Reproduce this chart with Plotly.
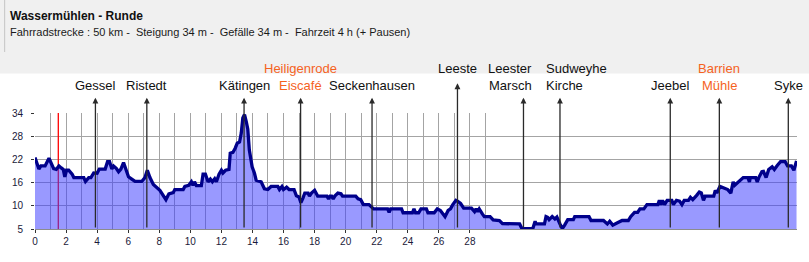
import plotly.graph_objects as go

# ---------------- data ----------------
km = [0.0, 0.15, 0.25, 0.38, 0.65, 0.9, 1.0, 1.2, 1.37, 1.54, 1.69, 1.82, 1.92, 2.03, 2.17, 2.39, 2.5,
      3.14, 3.25, 3.46, 3.6, 3.78, 4.0, 4.14, 4.52, 4.67, 4.8, 4.95, 5.06, 5.23, 5.38, 5.53, 5.7, 5.85,
      6.02, 6.23, 6.44, 6.87, 7.08, 7.23, 7.4, 7.62, 8.04, 8.43, 8.62, 8.9, 9.0, 9.54, 9.65, 9.9, 10.07,
      10.17, 10.27, 10.39, 10.71, 10.82, 10.97, 11.14, 11.29, 11.42, 11.57, 11.68, 11.85, 12.0, 12.1,
      12.27, 12.49, 12.57, 12.74, 12.89, 13.02, 13.17, 13.28, 13.38, 13.49, 13.6, 13.7, 13.8, 13.98,
      14.13, 14.24, 14.56, 14.77, 14.99, 15.2, 15.63, 15.74, 15.9, 16.0, 16.2, 16.36, 16.68, 16.83,
      17.0, 17.12, 17.25, 17.37, 17.58, 17.67, 17.8, 18.0, 18.2, 18.8, 18.9, 19.0, 19.1, 19.2, 19.3,
      19.5, 19.7, 19.8, 20.65, 20.8, 20.97, 21.14, 21.5, 21.8, 22.7, 22.8, 22.9, 23.6, 23.7, 24.3,
      24.4, 24.5, 24.7, 24.85, 25.2, 25.3, 25.7, 25.9, 26.1, 26.4, 26.6, 26.75, 26.9, 27.1, 27.2,
      27.4, 27.6, 28.1, 28.3, 28.4, 28.5, 28.6, 28.8, 28.93, 29.3, 29.5, 29.9, 30.1, 31.2, 31.35,
      32.05, 32.2, 32.25, 32.8, 32.9, 33.0, 33.1, 33.3, 33.47, 33.6, 33.8, 33.95, 34.1, 34.3, 34.66,
      34.75, 35.67, 35.8, 36.6, 36.85, 37.0, 37.2, 37.5, 37.8, 38.2, 38.35, 38.6, 38.8, 38.95, 39.2,
      39.4, 40.1, 40.2, 40.3, 40.4, 40.53, 40.7, 41.0, 41.1, 41.3, 41.5, 41.65, 41.8, 42.07, 42.2,
      42.35, 42.6, 42.77, 42.9, 43.04, 43.15, 43.7, 43.8, 43.9, 44.1, 44.3, 44.6, 44.8, 44.95, 45.05,
      45.38, 45.6, 45.9, 46.0, 46.05, 46.4, 46.5, 46.6, 46.8, 46.9, 47.07, 47.24, 47.46, 47.6, 47.8,
      48.0, 48.3, 48.45, 48.7, 48.86, 49.03]
elev = [22.5, 20.5, 19.5, 20.3, 20.3, 22.3, 21.4, 19.6, 19.4, 20.3, 19.8, 19.4, 17.5, 19.2, 19.2, 18.2, 17.3,
        17.3, 16.3, 17.3, 17.3, 18.5, 18.4, 19.5, 19.5, 21.4, 21.4, 19.5, 20.3, 19.7, 18.8, 19.5, 21.2, 19.5,
        17.5, 16.9, 16.3, 16.3, 17.3, 19.2, 17.3, 15.5, 14.0, 11.6, 13.1, 13.4, 14.2, 14.2, 15.0, 15.3, 16.2,
        15.3, 16.2, 15.2, 15.2, 18.2, 18.2, 16.2, 16.9, 16.2, 17.0, 16.2, 18.2, 19.2, 18.5,
        19.2, 19.4, 23.6, 23.8, 24.9, 26.2, 26.5, 28.8, 32.7, 33.6, 31.8, 29.8, 24.4, 20.1,
        18.4, 16.6, 16.2, 14.4, 14.2, 15.0, 15.0, 14.2, 15.0, 14.2, 14.8, 14.2, 14.2, 12.6,
        12.3, 10.8, 12.0, 13.3, 13.3, 12.5, 13.3, 14.0, 12.5, 12.5, 11.8, 12.5, 12.5, 11.8, 12.5,
        13.3, 13.1, 12.5, 12.5, 11.8, 11.6, 10.3, 10.3, 9.2, 9.2, 8.3, 9.2, 9.2, 8.2, 8.2,
        9.2, 8.2, 8.2, 9.2, 9.2, 8.2, 8.2, 9.2, 8.8, 7.2, 8.8, 9.2, 10.3, 11.4, 11.2,
        10.6, 9.4, 9.4, 8.5, 9.2, 8.5, 9.2, 7.9, 7.2, 7.2, 6.35, 6.2, 5.4, 5.3, 4.1,
        4.1, 6.0, 5.3, 5.3, 7.2, 7.0, 6.4, 7.2, 6.6, 7.1, 5.3, 4.1, 5.0, 6.4, 6.4,
        7.2, 7.2, 6.2, 6.2, 5.3, 6.0, 5.0, 5.6, 6.2, 6.2, 7.2, 8.3, 8.3, 9.2, 9.2,
        10.3, 10.3, 11.4, 10.3, 11.4, 10.3, 11.4, 11.4, 10.3, 11.4, 11.2, 10.3, 11.4, 11.4, 12.2,
        11.6, 12.7, 13.55, 13.3, 11.4, 12.5, 12.5, 14.0, 13.3, 15.0, 14.6, 14.2, 13.3, 16.2, 15.3,
        16.6, 17.3, 17.3, 16.2, 17.3, 17.3, 16.2, 17.3, 18.8, 18.9, 17.3, 19.4, 20.1, 19.4, 20.5,
        21.4, 21.4, 20.3, 20.3, 19.2, 21.6]

place_km = [3.89, 7.2, 13.46, 17.1, 21.7, 27.2, 31.45, 33.8, 40.9, 44.06, 48.5]
place_line1 = ["", "", "", "Heiligenrode", "", "Leeste", "Leester", "Sudweyhe", "", "Barrien", ""]
place_line2 = ["Gessel", "Ristedt", "Kätingen", "Eiscafé", "Seckenhausen", "", "Marsch", "Kirche",
               "Jeebel", "Mühle", "Syke"]
place_highlight = [False, False, False, True, False, False, False, False, False, True, False]
place_anchor = ["center", "center", "center", "center", "center", "center", "right", "left",
                "center", "center", "center"]
place_label_km = [3.89, 7.2, 13.46, 17.1, 21.7, 27.2, 32.15, 32.75, 40.9, 44.06, 48.5]

current_km = 1.5

y_tickvals = [4, 10, 16, 22, 28, 34]
y_ticktext = ["5", "10", "16", "22", "28", "34"]
x_tickvals = list(range(0, 29, 2))
x_minor = list(range(1, 30, 2))

title = "Wassermühlen - Runde"
subtitle = ("Fahrradstrecke : 50 km -\u00a0 Steigung 34 m -\u00a0 Gefälle 34 m -\u00a0 "
            "Fahrzeit 4 h (+ Pausen)")

# ---------------- layout geometry ----------------
W, H = 809, 262
ML, MR, MT, MB = 31, 12, 113, 33
PW, PH = W - ML - MR, H - MT - MB


def py(pix):
    """pixel row -> paper y"""
    return (H - MB - pix) / PH


def px(pix):
    return (pix - ML) / PW


FONT = "Liberation Sans, Arial, sans-serif"

fig = go.Figure()
fig.add_trace(go.Scatter(
    x=km, y=elev, mode="lines",
    line=dict(color="#00008b", width=3.3),
    fill="tozeroy", fillcolor="rgba(60,60,255,0.52)",
    hoverinfo="skip", showlegend=False,
))

shapes = [
    dict(type="rect", xref="paper", yref="paper", x0=px(-10), x1=px(W + 10), y0=py(73.5), y1=py(-10),
         fillcolor="#f0f0f0", line=dict(width=0), layer="below"),
    dict(type="line", xref="paper", yref="paper", x0=px(0.5), x1=px(0.5), y0=py(52), y1=py(-2),
         line=dict(color="#c4c4c4", width=1), layer="below"),
    dict(type="line", xref="x", yref="y", x0=current_km, x1=current_km, y0=4, y1=34,
         line=dict(color="#ff0000", width=1.3), layer="between"),
]

annotations = [
    dict(text="<b>" + title + "</b>", xref="paper", yref="paper", x=px(4), y=py(16),
         xanchor="left", yanchor="middle", showarrow=False,
         font=dict(family=FONT, size=12, color="#111111")),
    dict(text=subtitle, xref="paper", yref="paper", x=px(4), y=py(32),
         xanchor="left", yanchor="middle", showarrow=False,
         font=dict(family=FONT, size=11, color="#1a1a1a")),
]

for k, l1, l2, hl, anc, lk in zip(place_km, place_line1, place_line2, place_highlight,
                                  place_anchor, place_label_km):
    col = "#f5621e" if hl else "#111111"
    head_pix = 83.3 if (l1 and not l2) else 97.7
    annotations.append(dict(
        text="", x=k, y=py(head_pix), xref="x", yref="paper",
        showarrow=True, ax=0, ay=(H - MB) - head_pix, axref="pixel", ayref="pixel",
        arrowhead=2, arrowsize=0.9, arrowwidth=1.3, arrowcolor="#2a2a2a", standoff=0,
        startstandoff=0,
    ))
    if l1:
        annotations.append(dict(text=l1, x=lk, y=py(68), xref="x", yref="paper",
                                xanchor=anc, yanchor="middle", showarrow=False,
                                font=dict(family=FONT, size=13, color=col)))
    if l2:
        annotations.append(dict(text=l2, x=lk, y=py(85.5), xref="x", yref="paper",
                                xanchor=anc, yanchor="middle", showarrow=False,
                                font=dict(family=FONT, size=13, color=col)))

fig.update_layout(
    width=W, height=H,
    margin=dict(l=ML, r=MR, t=MT, b=MB, pad=0),
    paper_bgcolor="white", plot_bgcolor="white",
    shapes=shapes, annotations=annotations,
    font=dict(family=FONT),
    xaxis=dict(range=[0, 49.06], tickvals=x_tickvals, ticktext=[str(v) for v in x_tickvals],
               showgrid=True, gridcolor="#a4a4a4", gridwidth=1,
               minor=dict(tickvals=x_minor, showgrid=True, gridcolor="#a4a4a4", gridwidth=1),
               ticks="outside", ticklen=3, tickcolor="#333", zeroline=False,
               showline=True, linecolor="#8c8c8c", linewidth=1,
               tickfont=dict(size=10, color="#1a1a3a")),
    yaxis=dict(range=[4, 34], tickvals=y_tickvals, ticktext=y_ticktext,
               showgrid=True, gridcolor="#a4a4a4", gridwidth=1,
               ticks="outside", ticklen=3, tickcolor="#333", zeroline=False,
               showline=False, ticklabelstandoff=6,
               tickfont=dict(size=10, color="#1a1a3a")),
)

fig.write_html("out.html")
